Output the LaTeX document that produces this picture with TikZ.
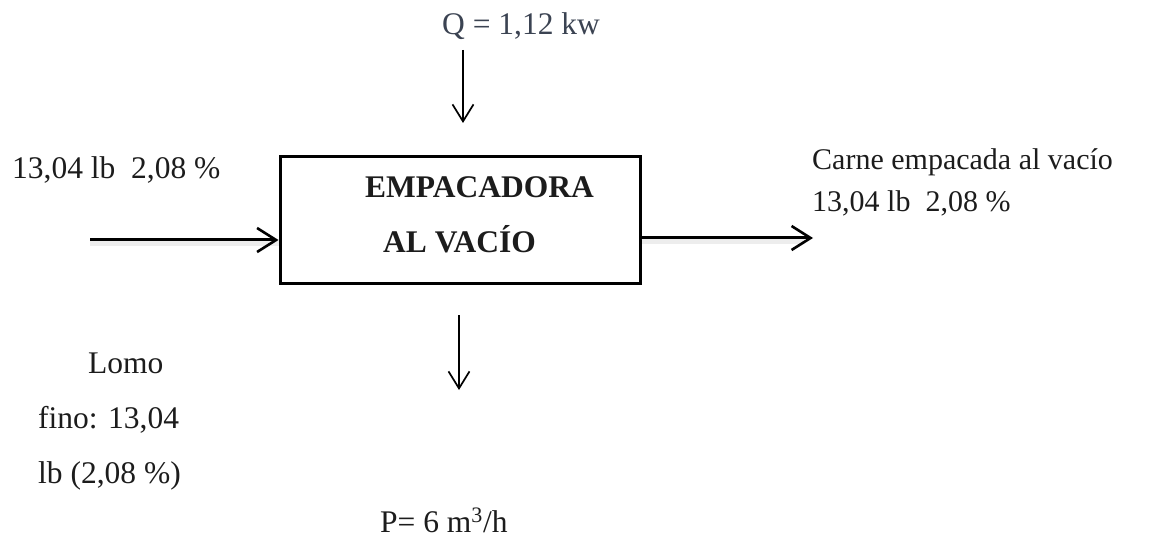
\documentclass[tikz,border=0pt]{standalone}
\usepackage{fontspec}
\setmainfont{Liberation Serif}
\usetikzlibrary{arrows.meta}
\definecolor{txt}{HTML}{1C1C1C}
\definecolor{qcol}{HTML}{3B4352}
\tikzset{
  lbl/.style={anchor=base west, inner sep=0pt, text=txt, font=\fontsize{31.5}{37}\selectfont},
  boxlbl/.style={anchor=base west, inner sep=0pt, text=txt, font=\fontsize{31.5}{37}\selectfont\bfseries},
  harr/.style={line width=3pt, -{Straight Barb[length=19pt,width=24pt,line width=2.6pt]}},
  varr/.style={line width=1.7pt, -{Straight Barb[length=17pt,width=21pt,line width=1.7pt]}},
  shadowline/.style={line width=5pt, black!7},
  machine/.style={draw, line width=3pt, minimum width=360pt, minimum height=126pt, inner sep=0pt}
}
\begin{document}
\begin{tikzpicture}[x=1pt,y=-1pt]
\useasboundingbox (0,0) rectangle (1170,540);
% box
\node[machine] (box) at (460,220) {};
\node[boxlbl] (t1) at (365,198) {EMPACADORA};
\node[boxlbl] (t2) at (383,252) {AL VAC\'IO};
% connectors
\coordinate (inL) at (90,240);
\coordinate (outR) at (813,238);
\coordinate (qs) at (463,50);
\coordinate (qe) at (463,123);
\coordinate (ps) at (459,315);
\coordinate (pe) at (459,390);
\draw[shadowline] ([yshift=-4pt]inL) -- ([yshift=-4pt]inL -| box.west);
\draw[shadowline] ([yshift=-4pt]outR -| box.east) -- ([yshift=-4pt,xshift=-8pt]outR);
\draw[harr] (inL) -- (inL -| box.west);
\draw[harr] (outR -| box.east) -- (outR);
\draw[varr] (qs) -- (qe);
\draw[varr] (ps) -- (pe);
% labels
\node[lbl, text=qcol] (q) at (442,35) {Q = 1,12 kw};
\node[lbl] (inlbl) at (12,179) {13,04 lb\ \ 2,08 \%};
\node[lbl, font=\fontsize{30}{36}\selectfont] (out1) at (812,170) {Carne empacada al vac\'io};
\node[lbl, font=\fontsize{30}{36}\selectfont] (out2) at (812,212) {13,04 lb\ \ 2,08 \%};
\node[lbl] (l1) at (88,373) {Lomo};
\node[lbl] (l2) at (38,428) {fino: 13,04};
\node[lbl] (l3) at (38,483) {lb (2,08 \%)};
\node[lbl] (p) at (380,532) {P= 6 m\textsuperscript{3}/h};
\end{tikzpicture}
\end{document}
